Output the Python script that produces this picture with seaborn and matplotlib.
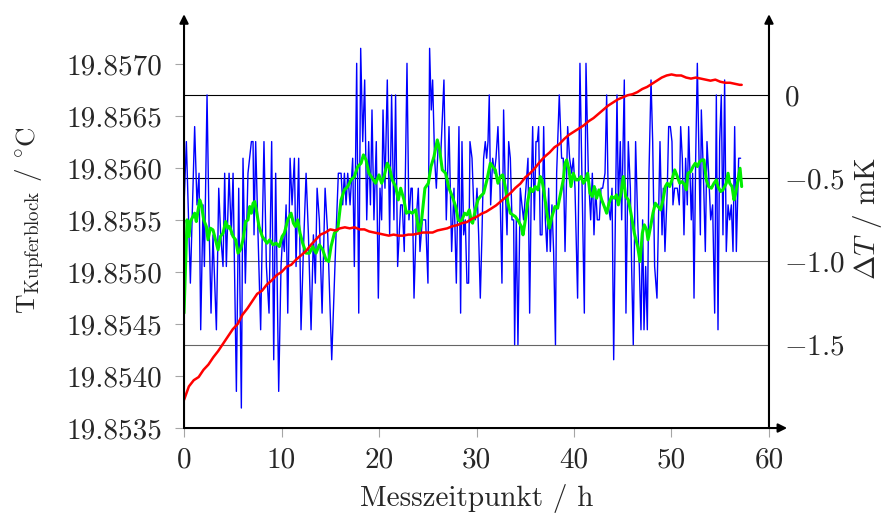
import numpy as np
import pandas as pd
import matplotlib
matplotlib.use("Agg")
import matplotlib.pyplot as plt
import seaborn as sns

# temperature of the copper block (left axis, degC), read every half hour
red_h = [0, 0.5, 1, 1.5, 2, 2.5, 3, 3.5, 4, 4.5, 5, 5.5, 6, 6.5, 7, 7.5, 8, 8.5,
         9, 9.5, 10, 10.5, 11, 11.5, 12, 12.5, 13, 13.5, 14, 14.5, 15, 15.5, 16,
         16.5, 17, 17.5, 18, 18.5, 19, 19.5, 20, 20.5, 21, 21.5, 22, 22.5, 23,
         23.5, 24, 24.5, 25, 25.5, 26, 26.5, 27, 27.5, 28, 28.5, 29, 29.5, 30,
         30.5, 31, 31.5, 32, 32.5, 33, 33.5, 34, 34.5, 35, 35.5, 36, 36.5, 37,
         37.5, 38, 38.5, 39, 39.5, 40, 40.5, 41, 41.5, 42, 42.5, 43, 43.5, 44,
         44.5, 45, 45.5, 46, 46.5, 47, 47.5, 48, 48.5, 49, 49.5, 50, 50.5, 51,
         51.5, 52, 52.5, 53, 53.5, 54, 54.5, 55, 55.5, 56, 56.5, 57, 57.2]
red_c = [19.85377, 19.85390, 19.85396, 19.85399, 19.85406, 19.85411, 19.85418,
         19.85424, 19.85431, 19.85438, 19.85445, 19.85450, 19.85459, 19.85465,
         19.85472, 19.85479, 19.85482, 19.85488, 19.85492, 19.85497, 19.85500,
         19.85505, 19.85507, 19.85512, 19.85516, 19.85520, 19.85526, 19.85531,
         19.85536, 19.85538, 19.85541, 19.85540, 19.85542, 19.85543, 19.85542,
         19.85543, 19.85541, 19.85541, 19.85539, 19.85538, 19.85537, 19.85536,
         19.85535, 19.85536, 19.85535, 19.85535, 19.85536, 19.85536, 19.85537,
         19.85538, 19.85538, 19.85538, 19.85540, 19.85541, 19.85542, 19.85544,
         19.85545, 19.85547, 19.85548, 19.85551, 19.85553, 19.85556, 19.85558,
         19.85561, 19.85564, 19.85568, 19.85572, 19.85576, 19.85581, 19.85585,
         19.85591, 19.85595, 19.85600, 19.85606, 19.85611, 19.85615, 19.85620,
         19.85623, 19.85628, 19.85632, 19.85635, 19.85638, 19.85641, 19.85645,
         19.85648, 19.85652, 19.85656, 19.85660, 19.85663, 19.85666, 19.85668,
         19.85670, 19.85671, 19.85673, 19.85676, 19.85678, 19.85681, 19.85684,
         19.85687, 19.85689, 19.85690, 19.85689, 19.85689, 19.85687, 19.85686,
         19.85687, 19.85686, 19.85685, 19.85684, 19.85685, 19.85683, 19.85682,
         19.85682, 19.85681, 19.85680, 19.85680]

# smoothed delta T (right axis, mK)
green_h = [0.0, 0.31, 0.51, 0.65, 0.92, 1.09, 1.26, 1.61, 1.78, 2.02, 2.29, 2.46,
           2.7, 2.97, 3.32, 3.49, 3.73, 4.0, 4.27, 4.51, 4.68, 4.85, 5.03, 5.3,
           5.54, 5.78, 6.05, 6.32, 6.56, 6.74, 6.91, 7.08, 7.25, 7.42, 7.69, 8.03,
           8.27, 8.51, 8.79, 9.13, 9.44, 9.78, 10.06, 10.29, 10.64, 10.98, 11.22,
           11.42, 11.66, 11.9, 12.17, 12.52, 12.86, 13.2, 13.54, 13.88, 14.23,
           14.57, 14.84, 15.08, 15.42, 15.76, 16.11, 16.45, 16.79, 17.13, 17.47,
           17.82, 18.16, 18.4, 18.67, 18.97, 19.31, 19.65, 20.0, 20.27, 20.51,
           20.85, 21.09, 21.36, 21.7, 21.98, 22.22, 22.56, 22.8, 23.07, 23.41,
           23.76, 24.1, 24.37, 24.71, 25.06, 25.33, 25.64, 25.98, 26.22, 26.49,
           26.83, 27.18, 27.52, 27.86, 28.13, 28.37, 28.51, 28.78, 29.02, 29.26,
           29.47, 29.6, 29.88, 30.15, 30.39, 30.73, 31.07, 31.42, 31.66, 31.93,
           32.2, 32.44, 32.68, 32.95, 33.23, 33.47, 33.71, 33.98, 34.32, 34.6,
           34.77, 35.01, 35.28, 35.52, 35.76, 36.03, 36.3, 36.54, 36.71, 36.89,
           37.13, 37.33, 37.47, 37.74, 38.05, 38.32, 38.56, 38.9, 39.08, 39.25,
           39.49, 39.69, 39.93, 40.17, 40.44, 40.72, 40.96, 41.2, 41.4, 41.64,
           41.88, 42.08, 42.32, 42.56, 42.84, 43.11, 43.35, 43.59, 43.86, 44.14,
           44.37, 44.55, 44.82, 45.06, 45.3, 45.57, 45.84, 46.19, 46.53, 46.77,
           47.01, 47.21, 47.45, 47.59, 47.86, 48.1, 48.34, 48.62, 48.89, 49.13,
           49.37, 49.57, 49.81, 50.05, 50.33, 50.6, 50.84, 51.08, 51.35, 51.52,
           51.69, 51.97, 52.21, 52.44, 52.65, 52.89, 53.13, 53.33, 53.57, 53.81,
           54.09, 54.36, 54.6, 54.77, 55.04, 55.28, 55.45, 55.62, 55.8, 55.97,
           56.21, 56.41, 56.58, 56.82, 57.03, 57.2]
green_mk = [-1.31, -0.75, -0.85, -0.76, -0.73, -0.71, -0.76, -0.63, -0.66, -0.75,
            -0.79, -0.87, -0.80, -0.81, -0.89, -0.93, -0.85, -0.83, -0.76, -0.80,
            -0.79, -0.82, -0.85, -0.87, -0.95, -0.93, -0.87, -0.76, -0.75, -0.67,
            -0.71, -0.65, -0.64, -0.69, -0.79, -0.85, -0.87, -0.89, -0.87, -0.90,
            -0.89, -0.91, -0.85, -0.83, -0.75, -0.71, -0.77, -0.79, -0.75, -0.83,
            -0.89, -0.95, -0.95, -0.91, -0.95, -0.90, -0.93, -0.99, -1.00, -0.91,
            -0.83, -0.81, -0.63, -0.57, -0.55, -0.51, -0.49, -0.43, -0.41, -0.36,
            -0.39, -0.47, -0.50, -0.53, -0.48, -0.53, -0.49, -0.41, -0.44, -0.51,
            -0.55, -0.63, -0.56, -0.63, -0.71, -0.70, -0.71, -0.69, -0.83, -0.75,
            -0.56, -0.53, -0.43, -0.37, -0.27, -0.33, -0.45, -0.47, -0.56, -0.61,
            -0.67, -0.75, -0.76, -0.75, -0.71, -0.72, -0.69, -0.76, -0.77, -0.69,
            -0.63, -0.61, -0.59, -0.51, -0.41, -0.43, -0.45, -0.53, -0.49, -0.48,
            -0.55, -0.65, -0.71, -0.72, -0.73, -0.76, -0.79, -0.84, -0.75, -0.63,
            -0.56, -0.58, -0.55, -0.57, -0.49, -0.51, -0.57, -0.67, -0.75, -0.80,
            -0.73, -0.67, -0.68, -0.61, -0.51, -0.41, -0.39, -0.45, -0.55, -0.47,
            -0.51, -0.51, -0.49, -0.53, -0.51, -0.47, -0.59, -0.61, -0.55, -0.62,
            -0.57, -0.63, -0.67, -0.71, -0.65, -0.61, -0.62, -0.60, -0.66, -0.59,
            -0.49, -0.61, -0.63, -0.71, -0.83, -0.91, -1.00, -0.83, -0.78, -0.81,
            -0.87, -0.79, -0.71, -0.65, -0.67, -0.69, -0.63, -0.55, -0.53, -0.55,
            -0.51, -0.45, -0.49, -0.53, -0.52, -0.54, -0.57, -0.47, -0.46, -0.43,
            -0.41, -0.43, -0.40, -0.39, -0.39, -0.51, -0.55, -0.56, -0.53, -0.51,
            -0.55, -0.58, -0.57, -0.55, -0.53, -0.47, -0.53, -0.55, -0.63, -0.59,
            -0.51, -0.44, -0.55]

# raw delta T (right axis, mK)
blue_h = [0.0, 0.24, 0.65, 1.09, 1.33, 1.54, 1.71, 1.95, 2.09, 2.36, 2.56, 2.77,
          2.97, 3.32, 3.56, 3.76, 4.0, 4.17, 4.34, 4.62, 4.85, 5.03, 5.37, 5.61,
          5.88, 6.05, 6.29, 6.56, 6.91, 7.08, 7.18, 7.35, 7.59, 7.86, 8.05, 8.2,
          8.45, 8.72, 8.99, 9.2, 9.4,
          9.71, 9.95, 10.12, 10.29, 10.47, 10.64, 10.88, 11.08, 11.32, 11.49,
          11.76, 12.0, 12.24, 12.52, 12.76, 13.03, 13.27, 13.47, 13.65, 13.88,
          14.16, 14.47, 14.74, 15.15, 15.59, 15.83, 16.11, 16.28, 16.45, 16.62,
          16.79, 17.03, 17.3, 17.47, 17.71, 17.92, 18.12, 18.33, 18.53, 18.74,
          18.94, 19.12,
          19.28, 19.48, 19.72, 19.93, 20.1, 20.27, 20.41, 20.61, 20.85, 21.09,
          21.29, 21.53, 21.7, 21.91, 22.22, 22.39, 22.59, 22.87, 23.07, 23.28,
          23.41, 23.59, 23.82, 24.03, 24.2, 24.44, 24.78, 25.02, 25.19, 25.36,
          25.5, 25.7, 25.88, 26.08, 26.32, 26.66, 26.9, 27.18, 27.45, 27.69,
          27.93, 28.2, 28.37, 28.51,
          28.68, 28.85, 29.02, 29.19, 29.33, 29.54, 29.71, 29.88, 30.05, 30.22,
          30.39, 30.56, 30.73, 30.9, 31.04, 31.18, 31.31, 31.45, 31.66, 31.83,
          32.0, 32.2, 32.41, 32.61, 32.78, 32.95, 33.13, 33.3, 33.47, 33.64,
          33.81, 33.91, 34.08, 34.25, 34.49, 34.66, 34.83, 35.07, 35.28, 35.45,
          35.62, 35.76, 35.93, 36.1, 36.24, 36.37, 36.54, 36.72, 36.89, 37.06,
          37.23, 37.4, 37.57, 37.74, 37.91, 38.1,
          38.22, 38.49, 38.73, 38.9, 39.08, 39.35, 39.55, 39.76, 39.93, 40.1,
          40.37, 40.61, 40.78, 41.06, 41.23, 41.47, 41.71, 41.88, 42.05, 42.22,
          42.39, 42.6, 42.77, 42.94, 43.18, 43.35, 43.52, 43.73, 43.9, 44.07,
          44.24, 44.41, 44.55, 44.75, 44.89, 45.16, 45.33, 45.57, 45.78, 45.91,
          46.08, 46.32, 46.53, 46.7, 46.87, 47.04, 47.18, 47.35, 47.52, 47.69,
          47.9,
          48.07, 48.27, 48.51, 48.82, 49.03, 49.16, 49.33, 49.57, 49.71, 49.88,
          50.05, 50.15, 50.32, 50.6, 50.8, 50.94, 51.11, 51.28, 51.45, 51.62,
          51.76, 51.9, 52.03, 52.17, 52.31, 52.48, 52.65, 52.79, 52.96, 53.06,
          53.27, 53.47, 53.64, 53.81, 54.02, 54.22, 54.43, 54.6, 54.77, 54.94,
          55.11, 55.28, 55.45, 55.62, 55.8, 55.97, 56.14, 56.31, 56.48, 56.65,
          56.89, 57.09]
blue_mk = [-0.66, -0.28, -1.13, -0.19, -0.66, -0.47, -1.41, -0.66, -1.03, 0.0,
           -0.75, -1.31, -0.84, -1.41, -0.56, -0.84, -1.03, -0.47, -1.03, -0.47,
           -0.84, -0.47, -1.78, -0.56, -1.88, -0.38, -1.13, -0.47, -0.28, -0.28,
           -0.84, -0.28, -0.84, -1.41, -0.75, -0.28, -1.03, -1.31, -0.28, -1.59,
           -0.47,
           -1.78, -1.03, -0.84, -0.94, -0.66, -1.31, -0.38, -0.66, -0.38, -1.03,
           -0.38, -1.41, -0.94, -0.47, -0.84, -1.41, -0.84, -1.13, -0.56, -0.75,
           -1.31, -0.56, -0.84, -1.59, -0.84, -0.47, -0.47, -0.66, -0.47, -0.66,
           -0.47, -0.66, -0.38, -1.03, 0.19, -1.31, 0.28, -0.28, 0.09, -0.75,
           -0.28, -0.66,
           -0.09, -0.75, -0.28, -1.22, -0.56, -0.75, -0.09, -0.56, 0.09, -0.84,
           0.0, -0.75, 0.0, -1.03, -0.66, -0.66, -0.94, 0.19, -0.75, -0.56,
           -0.56, -1.22, -0.75, -0.56, -0.94, -0.75, -0.75, -1.13, 0.28, -0.09,
           0.09, -0.38, -0.56, -0.28, -0.38, 0.09, -0.75, -0.19, -0.94, -0.56,
           -1.13, -0.19, -1.31, -0.28,
           -0.84, -0.75, -1.13, -1.13, -0.28, -0.38, -0.66, -0.75, -0.56, -0.84,
           -1.22, -0.84, -0.38, -0.28, -0.38, -0.28, 0.0, -0.66, -0.38, -0.47,
           -0.38, -0.19, -0.56, -1.13, -0.09, -0.56, -0.84, -0.28, -0.38, -0.75,
           -0.75, -1.5, -0.75, -1.5, -0.56, -0.66, -0.75, -0.56, -0.38, -1.31,
           -0.56, -0.19, -0.75, -0.28, -0.28, -0.19, -0.84, -0.84, -0.19, -0.75,
           -0.94, -0.56, -0.94, -0.66, -0.94, -1.5,
           -0.47, 0.0, -0.38, -0.38, -0.94, -0.19, -0.38, -0.47, -0.38, -0.56,
           -1.22, 0.19, -0.38, -1.31, 0.19, -0.47, -0.75, -0.47, -0.84, -0.56,
           -0.75, -0.75, -0.56, -0.56, -0.47, 0.0, -0.66, -0.75, -0.56, -1.59,
           -0.75, 0.0, -0.66, -0.28, -0.75, 0.09, -1.31, -0.28, -0.56, -1.03,
           -1.5, -0.28, -0.75, -1.03, -1.41, -0.75, -1.41, -1.03, -1.41, -0.47,
           0.09,
           -0.28, -1.03, -1.22, -0.28, -0.84, -0.56, -0.94, -0.56, -0.19, -0.19,
           -0.28, -0.66, -0.56, -0.56, -0.66, -0.19, -0.38, -0.84, -0.38, -0.66,
           -0.19, -0.47, -0.75, -0.47, -1.22, -0.38, 0.19, -0.28, -0.84, -0.09,
           -0.47, -0.94, -0.28, -0.47, -0.75, -0.66, -1.31, 0.0, -1.41, -0.28,
           0.0, -0.84, 0.09, -0.94, -0.66, -0.75, -0.66, -0.94, -0.19, -0.94,
           -0.38, -0.38]

x_ticks = [0, 10, 20, 30, 40, 50, 60]
t_ticks = [19.8535, 19.8540, 19.8545, 19.8550, 19.8555, 19.8560, 19.8565, 19.8570]
dt_ticks = [-1.5, -1.0, -0.5, 0.0]

sns.set_theme(style="white")
plt.rcParams["font.family"] = ["cmr10", "DejaVu Serif"]
plt.rcParams["mathtext.fontset"] = "cm"
plt.rcParams["axes.formatter.use_mathtext"] = True
FS = 21

blue = pd.DataFrame({"h": blue_h, "mk": blue_mk})
green = pd.DataFrame({"h": green_h, "mk": green_mk})
red = pd.DataFrame({"h": red_h, "c": red_c})

fig = plt.figure(figsize=(8.89, 5.18), dpi=100)
ax = fig.add_axes([0.2070, 0.1737, 0.6580, 0.7645])   # delta T axis
ax_t = ax.twinx()                                      # copper block temperature

sns.lineplot(data=blue, x="h", y="mk", ax=ax, color="#0000ff", linewidth=1.0,
             sort=False, estimator=None)
sns.lineplot(data=green, x="h", y="mk", ax=ax, color="#00ee00", linewidth=2.2,
             sort=False, estimator=None)
sns.lineplot(data=red, x="h", y="c", ax=ax_t, color="#ff0000", linewidth=1.8,
             sort=False, estimator=None)

# delta T axis lives on the right, temperature on the left
ax.yaxis.tick_right()
ax.yaxis.set_label_position("right")
ax_t.yaxis.tick_left()
ax_t.yaxis.set_label_position("left")

ax.set_xlim(0, 60)
ax.set_ylim(-2.0, 0.378)
ax_t.set_ylim(19.8535, 19.857308)

ax.set_xticks(x_ticks)
ax.set_xticklabels([str(v) for v in x_ticks], fontsize=FS)
ax.set_yticks(dt_ticks)
ax.set_yticklabels(["$0$" if v == 0 else f"${v:.1f}$" for v in dt_ticks], fontsize=FS)
ax_t.set_yticks(t_ticks)
ax_t.set_yticklabels([f"{v:.4f}" for v in t_ticks], fontsize=FS)

ax.grid(axis="y", color="black", linewidth=0.8)
for gl, col in zip(ax.get_ygridlines(), ["0.4", "0.4", "black", "black"]):
    gl.set_color(col)

ax.tick_params(axis="x", direction="out", length=6.5, width=0.8, color="0.65",
               pad=7, bottom=True)
ax.tick_params(axis="y", length=0, pad=11)
ax_t.tick_params(axis="y", direction="out", length=6.5, width=0.8, color="0.65",
                 pad=9, left=True)

for a in (ax, ax_t):
    for s in a.spines.values():
        s.set_visible(False)

arrow = dict(arrowstyle="-|>", color="black", lw=1.5, shrinkA=0, shrinkB=0,
             mutation_scale=13)
for start, end in [((0, 0), (1.031, 0)), ((0, 0), (0, 1.045)), ((1, 0), (1, 1.045))]:
    ax_t.annotate("", xy=end, xytext=start, xycoords="axes fraction",
                  textcoords="axes fraction", arrowprops=arrow, annotation_clip=False)

ax.set_xlabel("Messzeitpunkt / h", fontsize=FS, labelpad=8)
ax.set_ylabel(r"$\Delta T$ / mK", fontsize=FS)
ax_t.set_ylabel(r"T$_{\mathrm{Kupferblock}}$ / $^{\circ}$C", fontsize=19.5)
ax.yaxis.set_label_coords(1.14, 0.53)
ax_t.yaxis.set_label_coords(-0.234, 0.525)

fig.savefig("out.png", dpi=100)
